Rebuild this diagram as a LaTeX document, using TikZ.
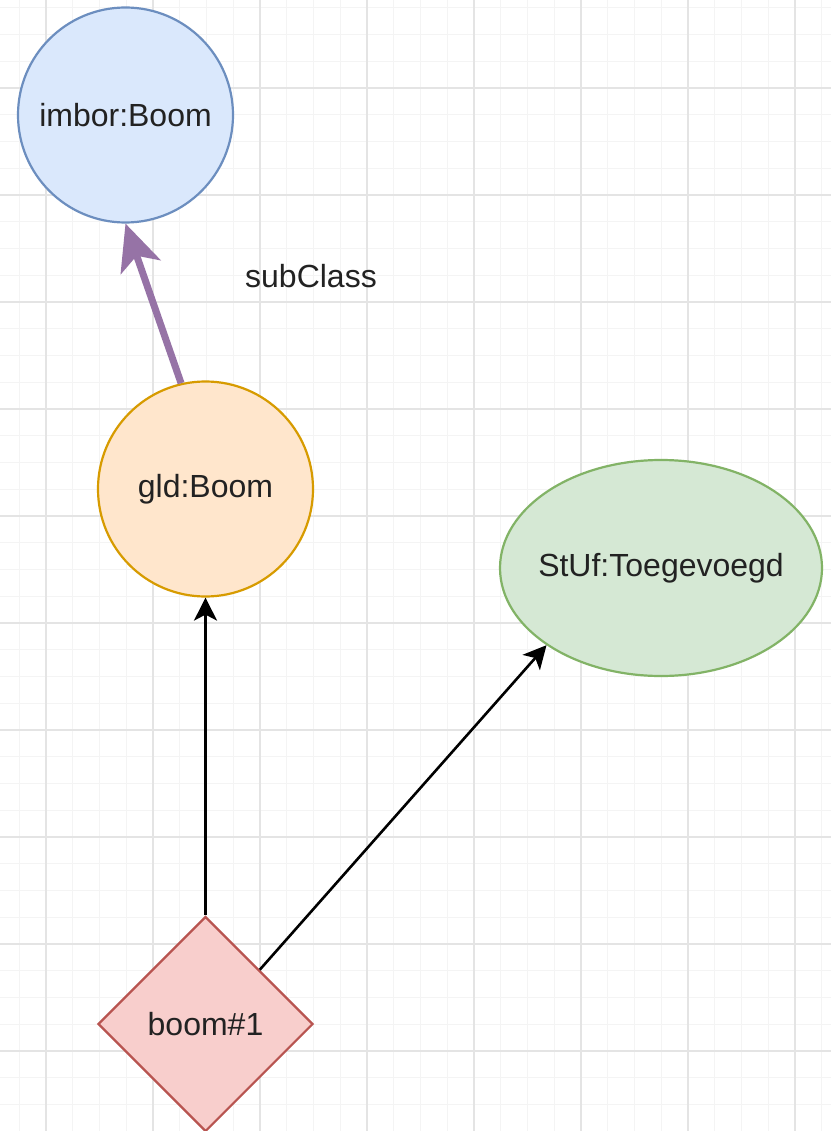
\documentclass[tikz,border=0pt]{standalone}
\usepackage{fontspec}
\setmainfont{Liberation Sans}
\usetikzlibrary{shapes.geometric,arrows.meta}
\definecolor{gridmajor}{HTML}{E4E4E4}
\definecolor{gridminor}{HTML}{F4F4F4}
\definecolor{bluefill}{HTML}{DAE8FC}
\definecolor{bluedraw}{HTML}{6C8EBF}
\definecolor{orangefill}{HTML}{FFE6CC}
\definecolor{orangedraw}{HTML}{D79B00}
\definecolor{greenfill}{HTML}{D5E8D4}
\definecolor{greendraw}{HTML}{82B366}
\definecolor{redfill}{HTML}{F8CECC}
\definecolor{reddraw}{HTML}{B85450}
\definecolor{purpleline}{HTML}{9673A6}
\definecolor{textcol}{HTML}{222222}
\tikzset{
  minorline/.style={draw=gridminor, line width=1pt},
  majorline/.style={draw=gridmajor, line width=1.3pt},
  lbl/.style={text=textcol, font=\fontsize{32}{38}\selectfont, inner sep=0pt},
  circ/.style={lbl, circle, minimum size=215pt, line width=2.2pt},
  oval/.style={lbl, ellipse, minimum width=322pt, minimum height=216pt, inner xsep=-50pt, line width=2.2pt},
  dia/.style={lbl, diamond, minimum width=215pt, minimum height=215pt, line width=2.2pt},
  conn/.style={line width=2.6pt, -{Stealth[length=23pt, width=23pt, inset=6pt]}},
  subconn/.style={draw=purpleline, line width=7pt, -{Stealth[length=46pt, width=42pt, inset=12pt]}}
}
\begin{document}
\begin{tikzpicture}[x=1pt, y=-1pt]
\useasboundingbox (0,0) rectangle (831,1131);
\fill[white] (0,0) rectangle (831,1131);
% grid
\foreach \k in {-2,...,29} {
  \draw[minorline] ({46+26.75*\k},0) -- ({46+26.75*\k},1131);
}
\foreach \k in {-4,...,39} {
  \draw[minorline] (0,{88+26.75*\k}) -- (831,{88+26.75*\k});
}
\foreach \k in {0,...,7} {
  \draw[majorline] ({46+107*\k},0) -- ({46+107*\k},1131);
}
\foreach \k in {-1,...,9} {
  \draw[majorline] (0,{88+107*\k}) -- (831,{88+107*\k});
}
% nodes
\node[circ, fill=bluefill, draw=bluedraw] (imbor) at (125.5,115) {imbor:Boom};
\node[circ, fill=orangefill, draw=orangedraw] (gld) at (205.5,489) {gld:Boom};
\node[oval, fill=greenfill, draw=greendraw] (stuf) at (661,568) {StUf:Toegevoegd};
\node[dia, fill=redfill, draw=reddraw] (boom) at (205.5,1024) {boom\#1};
\node[lbl] (sublbl) at (311,276) {subClass};
% connectors
\draw[subconn] (gld.103) -- (imbor.south);
\draw[conn] (boom.north) -- (gld.south);
\draw[conn] (boom.45) -- (stuf.214);
\end{tikzpicture}
\end{document}
